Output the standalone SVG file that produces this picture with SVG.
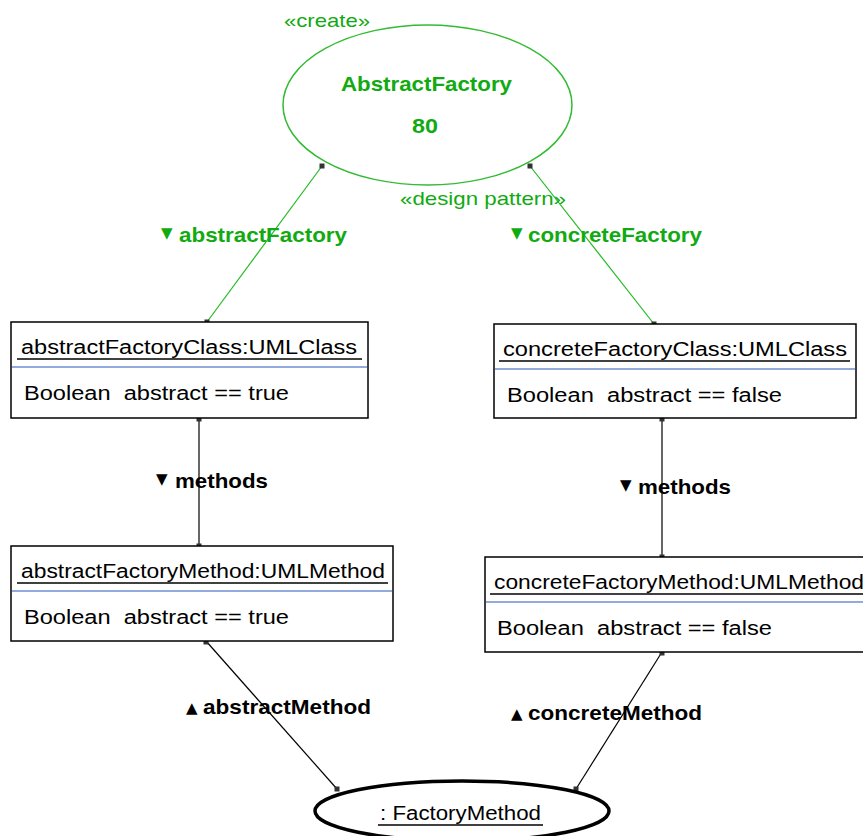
<svg xmlns="http://www.w3.org/2000/svg" width="863" height="836" viewBox="0 0 863 836">
  <style>
    .green { fill: #11aa11; font-family: "Liberation Sans", Arial, sans-serif; }
    .stereo { font-size: 19px; }
    .title { font-size: 21px; font-weight: bold; }
    .role { font-size: 21px; font-weight: bold; font-family: "Liberation Sans", Arial, sans-serif; }
    .tri { font-size: 15px; font-family: "DejaVu Sans", sans-serif; }
    .box { fill: #ffffff; stroke: #000000; stroke-width: 1.5; }
    .sep { stroke: #6f8fd0; stroke-width: 1.5; }
    .ul { stroke: #000000; stroke-width: 1.5; }
    .txt { font-family: "Liberation Sans", Arial, sans-serif; font-size: 20px; fill: #000000; }
    .glink { stroke: #22bb22; stroke-width: 1.2; fill: none; }
    .blink { stroke: #000000; stroke-width: 1.2; fill: none; }
  </style>
  <defs>
    <rect id="dot" x="-2.5" y="-2.5" width="5" height="5" fill="#333333"/>
  </defs>
  <rect width="863" height="836" fill="#ffffff"/>

  <g id="connectors">
    <line class="glink" x1="322" y1="166" x2="207" y2="322"/>
    <line class="glink" x1="530" y1="166" x2="654" y2="324"/>
    <line class="blink" x1="199" y1="418" x2="199" y2="546"/>
    <line class="blink" x1="662" y1="418" x2="662" y2="557"/>
    <line class="blink" x1="206" y1="641" x2="337" y2="789"/>
    <line class="blink" x1="662" y1="652" x2="576" y2="789"/>
    <use href="#dot" x="322" y="166"/>
    <use href="#dot" x="530" y="166"/>
    <use href="#dot" x="207" y="322"/>
    <use href="#dot" x="654" y="324"/>
    <use href="#dot" x="199" y="419"/>
    <use href="#dot" x="199" y="546"/>
    <use href="#dot" x="662" y="419"/>
    <use href="#dot" x="662" y="557"/>
    <use href="#dot" x="206" y="642"/>
    <use href="#dot" x="662" y="653"/>
    <use href="#dot" x="337" y="789"/>
    <use href="#dot" x="576" y="789"/>

    <text class="tri" fill="#11aa11" x="161" y="238">▼</text>
    <text class="role" fill="#11aa11" x="179" y="242" textLength="168" lengthAdjust="spacingAndGlyphs">abstractFactory</text>
    <text class="tri" fill="#11aa11" x="511" y="238">▼</text>
    <text class="role" fill="#11aa11" x="528" y="242" textLength="174" lengthAdjust="spacingAndGlyphs">concreteFactory</text>
    <text class="tri" x="156" y="484">▼</text>
    <text class="role" x="175" y="488" textLength="93" lengthAdjust="spacingAndGlyphs">methods</text>
    <text class="tri" x="620" y="490">▼</text>
    <text class="role" x="638" y="494" textLength="93" lengthAdjust="spacingAndGlyphs">methods</text>
    <text class="tri" x="186" y="713">▲</text>
    <text class="role" x="203" y="714" textLength="168" lengthAdjust="spacingAndGlyphs">abstractMethod</text>
    <text class="tri" x="511" y="719">▲</text>
    <text class="role" x="528" y="720" textLength="174" lengthAdjust="spacingAndGlyphs">concreteMethod</text>
  </g>

  <g id="abstractFactoryPattern">
    <ellipse cx="427.5" cy="105" rx="144.5" ry="80" fill="none" stroke="#33bb33" stroke-width="1.5"/>
    <text class="green stereo" x="284" y="27" textLength="86" lengthAdjust="spacingAndGlyphs">«create»</text>
    <text class="green title" x="341" y="91" textLength="171" lengthAdjust="spacingAndGlyphs">AbstractFactory</text>
    <text class="green title" x="412" y="133" textLength="26" lengthAdjust="spacingAndGlyphs">80</text>
    <text class="green stereo" x="400" y="205" textLength="166" lengthAdjust="spacingAndGlyphs">«design pattern»</text>
  </g>

  <g id="abstractFactoryClass">
    <rect class="box" x="11" y="322" width="357" height="96"/>
    <text class="txt" x="21" y="354" textLength="336" lengthAdjust="spacingAndGlyphs">abstractFactoryClass:UMLClass</text>
    <line class="ul" x1="17" y1="359" x2="362" y2="359"/>
    <line class="sep" x1="12" y1="367" x2="367" y2="367"/>
    <text class="txt" xml:space="preserve" x="24" y="400" textLength="265" lengthAdjust="spacingAndGlyphs">Boolean  abstract == true</text>
  </g>

  <g id="concreteFactoryClass">
    <rect class="box" x="494" y="324" width="362" height="94"/>
    <text class="txt" x="503" y="356" textLength="344" lengthAdjust="spacingAndGlyphs">concreteFactoryClass:UMLClass</text>
    <line class="ul" x1="499" y1="361" x2="850" y2="361"/>
    <line class="sep" x1="495" y1="369" x2="855" y2="369"/>
    <text class="txt" xml:space="preserve" x="507" y="402" textLength="275" lengthAdjust="spacingAndGlyphs">Boolean  abstract == false</text>
  </g>

  <g id="abstractFactoryMethod">
    <rect class="box" x="11" y="546" width="382" height="95"/>
    <text class="txt" x="21" y="578" textLength="364" lengthAdjust="spacingAndGlyphs">abstractFactoryMethod:UMLMethod</text>
    <line class="ul" x1="17" y1="583" x2="388" y2="583"/>
    <line class="sep" x1="12" y1="591" x2="392" y2="591"/>
    <text class="txt" xml:space="preserve" x="24" y="624" textLength="265" lengthAdjust="spacingAndGlyphs">Boolean  abstract == true</text>
  </g>

  <g id="concreteFactoryMethod">
    <rect class="box" x="485" y="557" width="390" height="95"/>
    <text class="txt" x="494" y="589" textLength="370" lengthAdjust="spacingAndGlyphs">concreteFactoryMethod:UMLMethod</text>
    <line class="ul" x1="490" y1="594" x2="863" y2="594"/>
    <line class="sep" x1="486" y1="602" x2="863" y2="602"/>
    <text class="txt" xml:space="preserve" x="497" y="635" textLength="275" lengthAdjust="spacingAndGlyphs">Boolean  abstract == false</text>
  </g>

  <g id="factoryMethod">
    <ellipse cx="462" cy="811" rx="147" ry="30" fill="#ffffff" stroke="#000000" stroke-width="3.5"/>
    <text class="txt" x="380" y="820" textLength="161" lengthAdjust="spacingAndGlyphs">: FactoryMethod</text>
    <line class="ul" x1="378" y1="825" x2="543" y2="825"/>
  </g>
</svg>
